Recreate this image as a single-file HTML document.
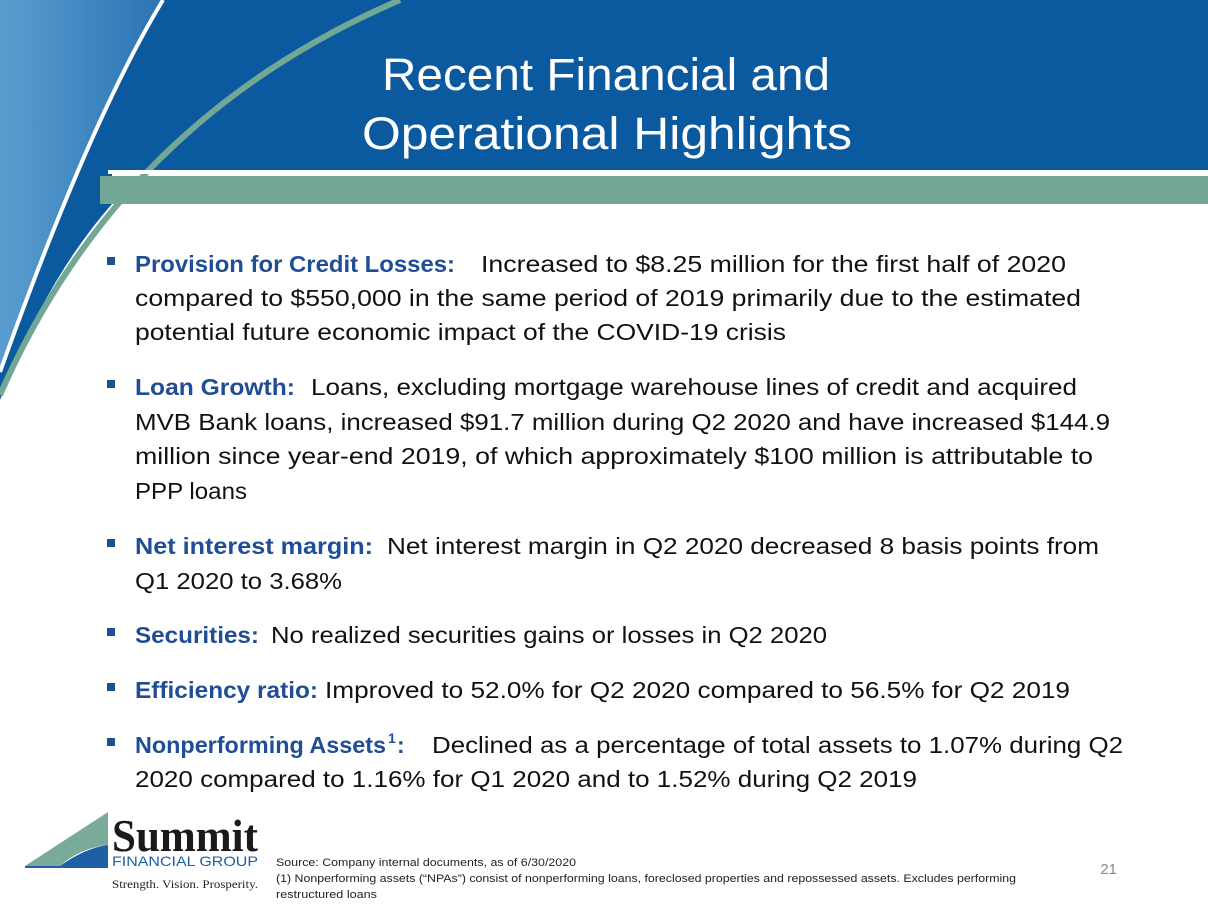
<!DOCTYPE html>
<html><head><meta charset="utf-8"><style>
html,body{margin:0;padding:0;background:#fff;}
svg{display:block;}
text{font-family:"Liberation Sans",sans-serif;}
.b{font-weight:bold;fill:#1f4e96;font-size:23px;}
.r{fill:#111;font-size:23px;}
.f{fill:#222;font-size:11px;}
</style></head><body>
<svg width="1208" height="907" viewBox="0 0 1208 907">
<defs>
<linearGradient id="lg" x1="0" y1="0" x2="1" y2="0">
<stop offset="0" stop-color="#5a9dcf"/><stop offset="1" stop-color="#2a74b4"/>
</linearGradient>
</defs>
<g>
<path d="M0,0 L1208,0 L1208,172 L112,172 L112,204 Q45,280 0,400 Z" fill="#0b5a9f"/>
<rect x="100" y="176" width="1108" height="28" fill="#72a796"/>
<path d="M0,0 L163,0 Q90,120 0,372 Z" fill="url(#lg)"/>
<path d="M163,0 Q90,120 0,372" stroke="#fff" stroke-width="4" fill="none"/>
<path d="M400,0 Q120,120 0,395" stroke="#72a796" stroke-width="6" fill="none"/>
<path d="M108,172 L1208,172" stroke="#fff" stroke-width="4"/>
</g>
<text x="606" y="90" text-anchor="middle" fill="#fff" font-size="45" textLength="448" lengthAdjust="spacingAndGlyphs">Recent Financial and</text>
<text x="607" y="149" text-anchor="middle" fill="#fff" font-size="45" textLength="490" lengthAdjust="spacingAndGlyphs">Operational Highlights</text>

<g>
<rect x="107" y="257" width="8" height="8" fill="#1f4e96"/>
<text class="b" x="135" y="272" textLength="320" lengthAdjust="spacingAndGlyphs">Provision for Credit Losses:</text>
<text class="r" x="481" y="272" textLength="585" lengthAdjust="spacingAndGlyphs">Increased to $8.25 million for the first half of 2020</text>
<text class="r" x="135" y="306" textLength="946" lengthAdjust="spacingAndGlyphs">compared to $550,000 in the same period of 2019 primarily due to the estimated</text>
<text class="r" x="135" y="340" textLength="651" lengthAdjust="spacingAndGlyphs">potential future economic impact of the COVID-19 crisis</text>

<rect x="107" y="380" width="8" height="8" fill="#1f4e96"/>
<text class="b" x="135" y="395" textLength="160" lengthAdjust="spacingAndGlyphs">Loan Growth:</text>
<text class="r" x="311" y="395" textLength="766" lengthAdjust="spacingAndGlyphs">Loans, excluding mortgage warehouse lines of credit and acquired</text>
<text class="r" x="135" y="430" textLength="975" lengthAdjust="spacingAndGlyphs">MVB Bank loans, increased $91.7 million during Q2 2020 and have increased $144.9</text>
<text class="r" x="135" y="464" textLength="958" lengthAdjust="spacingAndGlyphs">million since year-end 2019, of which approximately $100 million is attributable to</text>
<text class="r" x="135" y="499" textLength="112" lengthAdjust="spacingAndGlyphs">PPP loans</text>

<rect x="107" y="539" width="8" height="8" fill="#1f4e96"/>
<text class="b" x="135" y="554" textLength="238" lengthAdjust="spacingAndGlyphs">Net interest margin:</text>
<text class="r" x="387" y="554" textLength="712" lengthAdjust="spacingAndGlyphs">Net interest margin in Q2 2020 decreased 8 basis points from</text>
<text class="r" x="135" y="589" textLength="207" lengthAdjust="spacingAndGlyphs">Q1 2020 to 3.68%</text>

<rect x="107" y="628" width="8" height="8" fill="#1f4e96"/>
<text class="b" x="135" y="643" textLength="124" lengthAdjust="spacingAndGlyphs">Securities:</text>
<text class="r" x="271" y="643" textLength="556" lengthAdjust="spacingAndGlyphs">No realized securities gains or losses in Q2 2020</text>

<rect x="107" y="683" width="8" height="8" fill="#1f4e96"/>
<text class="b" x="135" y="698" textLength="183" lengthAdjust="spacingAndGlyphs">Efficiency ratio:</text>
<text class="r" x="325" y="698" textLength="745" lengthAdjust="spacingAndGlyphs">Improved to 52.0% for Q2 2020 compared to 56.5% for Q2 2019</text>

<rect x="107" y="738" width="8" height="8" fill="#1f4e96"/>
<text class="b" x="135" y="753" textLength="251" lengthAdjust="spacingAndGlyphs">Nonperforming Assets</text>
<text class="b" x="388" y="743" style="font-size:14px">1</text>
<text class="b" x="397" y="753">:</text>
<text class="r" x="432" y="753" textLength="691" lengthAdjust="spacingAndGlyphs">Declined as a percentage of total assets to 1.07% during Q2</text>
<text class="r" x="135" y="787" textLength="782" lengthAdjust="spacingAndGlyphs">2020 compared to 1.16% for Q1 2020 and to 1.52% during Q2 2019</text>
</g>

<g>
<path d="M25,866 L108,812 L108,845 Q80,848 60,866 Z" fill="#7aab9a"/>
<path d="M25,866 L60,866 Q85,848 108,845 L108,868 L25,868 Z" fill="#1e5fa6"/>
<text x="112" y="851" font-size="46" font-weight="bold" fill="#1a1a1a" textLength="146" lengthAdjust="spacingAndGlyphs" style="font-family:'Liberation Serif',serif">Summit</text>
<text x="112" y="866" font-size="14" fill="#1e5fa6" textLength="146" lengthAdjust="spacingAndGlyphs">FINANCIAL GROUP</text>
<text x="112" y="888" font-size="12" fill="#222" textLength="146" lengthAdjust="spacingAndGlyphs" style="font-family:'Liberation Serif',serif">Strength. Vision. Prosperity.</text>
</g>

<g>
<text class="f" x="276" y="866" textLength="300" lengthAdjust="spacingAndGlyphs">Source: Company internal documents, as of 6/30/2020</text>
<text class="f" x="276" y="882" textLength="740" lengthAdjust="spacingAndGlyphs">(1) Nonperforming assets (“NPAs”) consist of nonperforming loans, foreclosed properties and repossessed assets. Excludes performing</text>
<text class="f" x="276" y="898" textLength="101" lengthAdjust="spacingAndGlyphs">restructured loans</text>
</g>
<text x="1117" y="874" text-anchor="end" font-size="15" fill="#888">21</text>
</svg>
</body></html>
